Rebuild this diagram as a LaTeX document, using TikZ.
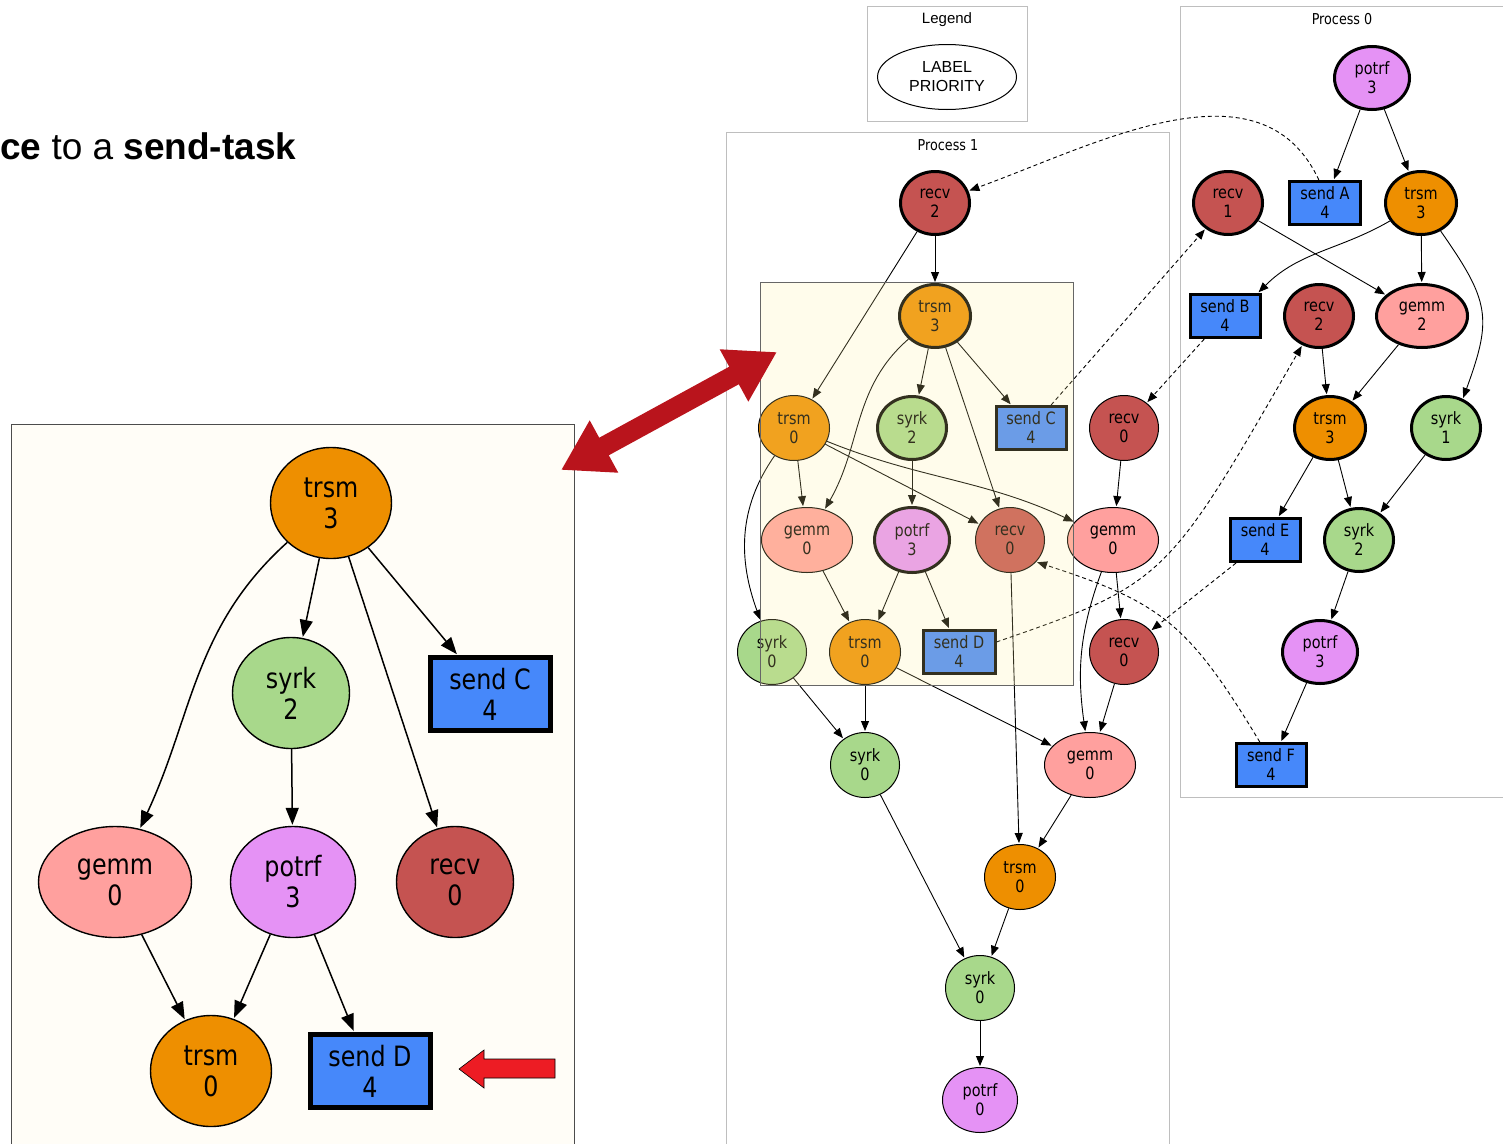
\documentclass[tikz,border=0pt]{standalone}
\usepackage{fontspec}
\setmainfont{DejaVu Sans}
\newfontfamily\taskfont{DejaVu Sans}[FakeStretch=0.85]
\newfontfamily\slidefont{Liberation Sans}
\usetikzlibrary{shapes.geometric,arrows.meta,positioning}

\definecolor{recvcol}{RGB}{197,83,81}
\definecolor{trsmcol}{RGB}{238,143,0}
\definecolor{syrkcol}{RGB}{168,216,139}
\definecolor{gemmcol}{RGB}{255,160,158}
\definecolor{potrfcol}{RGB}{229,146,245}
\definecolor{sendcol}{RGB}{70,136,250}
\definecolor{clustercol}{RGB}{190,190,190}
\definecolor{tintcol}{RGB}{255,240,155}
\definecolor{panelcol}{RGB}{255,253,247}
\definecolor{arrowred}{RGB}{185,20,28}
\definecolor{pointred}{RGB}{237,28,36}

\tikzset{
  task/.style={ellipse, draw, line width=1pt, inner sep=0pt, align=center,
    minimum width=69pt, minimum height=65pt,
    font=\taskfont\fontsize{17}{19}\selectfont},
  heavy/.style={line width=3pt, minimum height=63pt},
  recv/.style={task, fill=recvcol},
  trsm/.style={task, fill=trsmcol, minimum width=71pt},
  syrk/.style={task, fill=syrkcol},
  gemm/.style={task, fill=gemmcol, minimum width=91pt},
  potrf/.style={task, fill=potrfcol, minimum width=75pt},
  sendbox/.style={rectangle, draw, line width=3pt, fill=sendcol, inner sep=0pt,
    align=center, minimum width=70pt, minimum height=43pt,
    font=\taskfont\fontsize{17}{19}\selectfont},
  big/.style={minimum height=111pt, line width=1.4pt,
    font=\taskfont\fontsize{28}{31}\selectfont},
  dep/.style={-{Triangle[length=10pt,width=8pt]}, line width=0.9pt},
  bigdep/.style={-{Triangle[length=17pt,width=13pt]}, line width=1.5pt},
  comm/.style={dep, dashed, dash pattern=on 4pt off 3pt},
  cluster/.style={draw=clustercol, line width=1pt},
  title/.style={font=\taskfont\fontsize{15}{18}\selectfont},
  bigarrow/.style={draw=arrowred, line width=20pt, shorten >=0pt,
    {Triangle[length=49pt,width=56pt]}-{Triangle[length=49pt,width=56pt]}},
}

\begin{document}
\begin{tikzpicture}[x=1pt, y=1pt, shorten >=1pt]
  \useasboundingbox (0,0) rectangle (1503,-1143);

  % Clusters
  \draw[cluster] (867,-6) rectangle (1027,-121);
  \draw[cluster] (726,-132) rectangle (1169,-1160);
  \draw[cluster] (1180,-6) rectangle (1520,-797);
  \node[font=\slidefont\fontsize{15}{18}\selectfont] (LegendTitle) at (947,-20) {Legend};
  \node[title] (P1Title) at (948,-145) {Process 1};
  \node[title] (P0Title) at (1342,-19) {Process 0};
  \node[ellipse, draw, line width=1pt, minimum width=139pt, minimum height=65pt, align=center,
    font=\slidefont\fontsize{16}{19}\selectfont] (LegendKey) at (947,-77) {LABEL\\PRIORITY};

  % Heading
  \node[anchor=base west, inner sep=0pt, font=\slidefont\fontsize{37}{44}\selectfont]
    (Heading) at (0,-159) {\textbf{ce} to a \textbf{send-task}};

  % Define nodes (process 1)
  \node[recv, heavy] (P1Recv2) at (935,-203) {recv\\2};
  \node[trsm, heavy] (P1Trsm3) at (935,-316) {trsm\\3};
  \node[trsm] (P1Trsm0a) at (794,-428) {trsm\\0};
  \node[syrk, heavy] (P1Syrk2) at (912,-428) {syrk\\2};
  \node[sendbox] (P1SendC) at (1031,-428) {send C\\4};
  \node[recv] (P1Recv0a) at (1124,-428) {recv\\0};
  \node[gemm] (P1Gemm0a) at (807,-540) {gemm\\0};
  \node[potrf, heavy, minimum height=65pt] (P1Potrf3) at (912,-540) {potrf\\3};
  \node[recv] (P1Recv0b) at (1010,-540) {recv\\0};
  \node[gemm] (P1Gemm0b) at (1113,-540) {gemm\\0};
  \node[syrk] (P1Syrk0a) at (772,-652) {syrk\\0};
  \node[trsm] (P1Trsm0b) at (865,-652) {trsm\\0};
  \node[sendbox, minimum width=72pt] (P1SendD) at (959,-652) {send D\\4};
  \node[recv] (P1Recv0c) at (1124,-652) {recv\\0};
  \node[syrk] (P1Syrk0b) at (865,-765) {syrk\\0};
  \node[gemm] (P1Gemm0c) at (1090,-765) {gemm\\0};
  \node[trsm] (P1Trsm0c) at (1020,-877) {trsm\\0};
  \node[syrk] (P1Syrk0c) at (980,-988) {syrk\\0};
  \node[potrf] (P1Potrf0) at (980,-1100) {potrf\\0};

  % Define nodes (process 0)
  \node[potrf, heavy] (P0Potrf3a) at (1372,-78) {potrf\\3};
  \node[recv, heavy] (P0Recv1) at (1228,-203) {recv\\1};
  \node[sendbox, minimum width=71pt] (P0SendA) at (1325,-203) {send A\\4};
  \node[trsm, heavy] (P0Trsm3a) at (1421,-203) {trsm\\3};
  \node[sendbox] (P0SendB) at (1225,-316) {send B\\4};
  \node[recv, heavy] (P0Recv2) at (1319,-316) {recv\\2};
  \node[gemm, heavy] (P0Gemm2) at (1422,-316) {gemm\\2};
  \node[trsm, heavy] (P0Trsm3b) at (1330,-428) {trsm\\3};
  \node[syrk, heavy] (P0Syrk1) at (1446,-428) {syrk\\1};
  \node[sendbox] (P0SendE) at (1265,-540) {send E\\4};
  \node[syrk, heavy] (P0Syrk2) at (1359,-540) {syrk\\2};
  \node[potrf, heavy] (P0Potrf3b) at (1320,-652) {potrf\\3};
  \node[sendbox] (P0SendF) at (1271,-765) {send F\\4};

  % Connect the nodes (process 1)
  \draw[dep] (P1Recv2) -- (P1Trsm3);
  \draw[dep] (P1Recv2) -- (P1Trsm0a);
  \draw[dep] (P1Trsm3) -- (P1Syrk2);
  \draw[dep] (P1Trsm3) -- (P1SendC);
  \draw[dep] (P1Trsm3) -- (P1Recv0b);
  \draw[dep] (P1Trsm3) to[out=-139,in=60] (P1Gemm0a);
  \draw[dep] (P1Trsm0a) -- (P1Gemm0a);
  \draw[dep] (P1Trsm0a) to[out=-125,in=110] (P1Syrk0a);
  \draw[dep] (P1Trsm0a) -- (P1Recv0b);
  \draw[dep] (P1Trsm0a) to[out=-22,in=155] (P1Gemm0b);
  \draw[dep] (P1Syrk2) -- (P1Potrf3);
  \draw[dep] (P1Gemm0a) -- (P1Trsm0b);
  \draw[dep] (P1Potrf3) -- (P1Trsm0b);
  \draw[dep] (P1Potrf3) -- (P1SendD);
  \draw[dep] (P1Recv0a) -- (P1Gemm0b);
  \draw[dep] (P1Gemm0b) -- (P1Recv0c);
  \draw[dep] (P1Gemm0b) to[out=-110,in=98] (P1Gemm0c);
  \draw[dep] (P1Recv0c) -- (P1Gemm0c);
  \draw[dep] (P1Syrk0a) -- (P1Syrk0b);
  \draw[dep] (P1Trsm0b) -- (P1Syrk0b);
  \draw[dep] (P1Trsm0b) -- (P1Gemm0c);
  \draw[dep] (P1Recv0b) -- (P1Trsm0c);
  \draw[dep] (P1Gemm0c) -- (P1Trsm0c);
  \draw[dep] (P1Syrk0b) -- (P1Syrk0c);
  \draw[dep] (P1Trsm0c) -- (P1Syrk0c);
  \draw[dep] (P1Syrk0c) -- (P1Potrf0);

  % Connect the nodes (process 0)
  \draw[dep] (P0Potrf3a) -- (P0SendA);
  \draw[dep] (P0Potrf3a) -- (P0Trsm3a);
  \draw[dep] (P0Trsm3a) to[out=-150,in=45] (P0SendB.35);
  \draw[dep] (P0Trsm3a) -- (P0Gemm2);
  \draw[dep] (P0Trsm3a) to[out=-55,in=70,looseness=1.3] (P0Syrk1.60);
  \draw[dep] (P0Recv1) -- (P0Gemm2);
  \draw[dep] (P0Recv2) -- (P0Trsm3b);
  \draw[dep] (P0Gemm2) -- (P0Trsm3b);
  \draw[dep] (P0Trsm3b) -- (P0SendE);
  \draw[dep] (P0Trsm3b) -- (P0Syrk2);
  \draw[dep] (P0Syrk1) -- (P0Syrk2);
  \draw[dep] (P0Syrk2) -- (P0Potrf3b);
  \draw[dep] (P0Potrf3b) -- (P0SendF);

  % Messages between processes
  \draw[comm] (P0SendA.105) to[out=115,in=20] (P1Recv2);
  \draw[comm] (P1SendC) -- (P0Recv1);
  \draw[comm] (P0SendB) -- (P1Recv0a);
  \draw[comm] (P1SendD.15) .. controls +(19:180) and +(240:270) .. (P0Recv2.240);
  \draw[comm] (P0SendE) -- (P1Recv0c);
  \draw[comm] (P0SendF.116) .. controls +(121:140) and +(-18:130) .. (P1Recv0b.-40);

  % Highlighted sub-graph
  \fill[tintcol, fill opacity=0.2] (760,-282) rectangle (1073,-685);
  \draw[black!60, line width=1pt] (760,-282) rectangle (1073,-685);

  % Zoomed panel
  \draw[draw=black!70, fill=panelcol, line width=1pt] (11,-424) rectangle (574,-1160);
  \node[trsm, big, minimum width=121pt] (ZTrsm3) at (331,-503) {trsm\\3};
  \node[syrk, big, minimum width=117pt] (ZSyrk2) at (291,-693) {syrk\\2};
  \node[sendbox, big, line width=5pt, minimum width=120pt, minimum height=73pt] (ZSendC) at (490,-694) {send C\\4};
  \node[gemm, big, minimum width=153pt] (ZGemm0) at (115,-882) {gemm\\0};
  \node[potrf, big, minimum width=125pt] (ZPotrf3) at (293,-882) {potrf\\3};
  \node[recv, big, minimum width=117pt] (ZRecv0) at (455,-882) {recv\\0};
  \node[trsm, big, minimum width=121pt] (ZTrsm0) at (211,-1071) {trsm\\0};
  \node[sendbox, big, line width=5pt, minimum width=120pt, minimum height=73pt] (ZSendD) at (370,-1071) {send D\\4};

  \draw[bigdep] (ZTrsm3) to[out=-138,in=65] (ZGemm0);
  \draw[bigdep] (ZTrsm3) -- (ZSyrk2);
  \draw[bigdep] (ZTrsm3) -- (ZRecv0);
  \draw[bigdep] (ZTrsm3) -- (ZSendC);
  \draw[bigdep] (ZSyrk2) -- (ZPotrf3);
  \draw[bigdep] (ZGemm0) -- (ZTrsm0);
  \draw[bigdep] (ZPotrf3) -- (ZTrsm0);
  \draw[bigdep] (ZPotrf3) -- (ZSendD);

  % Red arrows
  \coordinate (BigArrowA) at (561,-470);
  \coordinate (BigArrowB) at (777,-352);
  \draw[bigarrow] (BigArrowA) -- (BigArrowB);
  \draw[fill=pointred, line width=0.6pt] (459,-1069) -- (484,-1050) -- (484,-1059)
    -- (555,-1059) -- (555,-1078) -- (484,-1078) -- (484,-1088) -- cycle;
\end{tikzpicture}
\end{document}
